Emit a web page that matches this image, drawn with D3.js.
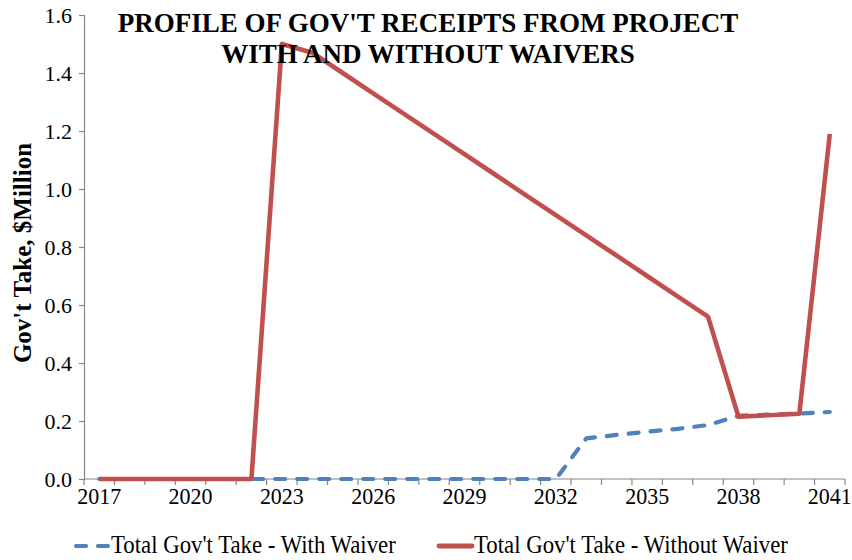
<!DOCTYPE html>
<html>
<head>
<meta charset="utf-8">
<script src="https://cdn.jsdelivr.net/npm/d3@7/dist/d3.min.js"></script>
<style>
  html, body { margin: 0; padding: 0; background: #fff; }
  svg { display: block; }
</style>
</head>
<body>
<svg id="chart" width="852" height="560"></svg>
<script>
// Government take by year, $ million
const years = [2017, 2018, 2019, 2020, 2021, 2022, 2023, 2024, 2025, 2026, 2027, 2028, 2029,
               2030, 2031, 2032, 2033, 2034, 2035, 2036, 2037, 2038, 2039, 2040, 2041];
const withWaiver = [0, 0, 0, 0, 0, 0, 0, 0, 0, 0, 0, 0, 0, 0, 0, 0,
                    0.14, 0.152, 0.163, 0.173, 0.186, 0.218, 0.222, 0.226, 0.231];
const withoutWaiver = [0, 0, 0, 0, 0, 0,
                       1.50, 1.47, 1.40, 1.33, 1.26, 1.19, 1.12, 1.05, 0.98, 0.91, 0.84, 0.77, 0.70, 0.63, 0.56,
                       0.215, 0.22, 0.225, 1.19];
const yTicks = [0, 0.2, 0.4, 0.6, 0.8, 1.0, 1.2, 1.4, 1.6];
const xLabelYears = [2017, 2020, 2023, 2026, 2029, 2032, 2035, 2038, 2041];
const titleLines = ["PROFILE OF GOV'T RECEIPTS FROM PROJECT", "WITH AND WITHOUT WAIVERS"];
const yTitle = "Gov't Take, $Million";
const seriesNames = ["Total Gov't Take - With Waiver", "Total Gov't Take - Without Waiver"];

const serif = "'Liberation Serif', 'Times New Roman', serif";
const svg = d3.select("#chart");
const plot = { left: 84, right: 845, top: 15, bottom: 479 };
const axisColor = "#868686";
const blue = "#4F81BD", red = "#C0504D";

const x = d3.scaleBand().domain(years).range([plot.left, plot.right]).paddingInner(0).paddingOuter(0);
const y = d3.scaleLinear().domain([0, 1.6]).range([plot.bottom, plot.top]);
const cx = d => x(d) + x.bandwidth() / 2;

// Y axis
const yAxis = d3.axisLeft(y).tickValues(yTicks).tickFormat(d3.format(".1f")).tickSize(5).tickPadding(7);
const gy = svg.append("g").attr("transform", `translate(${plot.left},0)`).call(yAxis)
  .attr("font-family", null).attr("font-size", null);
gy.select(".domain").attr("stroke", axisColor).attr("stroke-width", 1.2);
gy.selectAll(".tick line").attr("stroke", axisColor).attr("stroke-width", 1.2);
gy.selectAll(".tick text")
  .style("font-family", serif).style("font-size", "22px").attr("fill", "#000")
  .attr("dy", "0.36em");

// X axis: ticks sit on category boundaries, labels on every third year
const gx = svg.append("g").attr("transform", `translate(0,${plot.bottom})`);
gx.append("line").attr("x1", plot.left).attr("x2", plot.right).attr("stroke", axisColor).attr("stroke-width", 1.2);
const boundaries = years.map(d => x(d)).concat([plot.right]);
gx.selectAll("line.tick").data(boundaries).join("line")
  .attr("class", "tick")
  .attr("x1", d => d).attr("x2", d => d).attr("y1", 0).attr("y2", 6)
  .attr("stroke", axisColor).attr("stroke-width", 1.2);
gx.selectAll("text").data(xLabelYears).join("text")
  .attr("transform", d => `translate(${cx(d)},25) scale(1,1.08)`)
  .attr("text-anchor", "middle")
  .style("font-family", serif).style("font-size", "22px")
  .text(d => d);

// Series lines
const line = vals => d3.line().x((d, i) => cx(years[i])).y(d => y(d))(vals);
svg.append("path").attr("d", line(withWaiver))
  .attr("fill", "none").attr("stroke", blue).attr("stroke-width", 4.2)
  .attr("stroke-dasharray", "10,12").attr("stroke-linecap", "round").attr("stroke-linejoin", "round");
svg.append("path").attr("d", line(withoutWaiver))
  .attr("fill", "none").attr("stroke", red).attr("stroke-width", 4.6)
  .attr("stroke-linejoin", "round").attr("stroke-linecap", "butt");

// Title
svg.append("g").selectAll("text").data(titleLines).join("text")
  .attr("x", 428).attr("y", (d, i) => 32 + i * 31)
  .attr("text-anchor", "middle")
  .style("font-family", serif).style("font-size", "27px").style("font-weight", "bold")
  .text(d => d);

// Y axis title
svg.append("text")
  .attr("transform", `translate(31,253) rotate(-90)`)
  .attr("text-anchor", "middle")
  .style("font-family", serif).style("font-size", "25px").style("font-weight", "bold")
  .text(yTitle);

// Legend
const legend = svg.append("g");
legend.append("line").attr("x1", 76).attr("x2", 108).attr("y1", 546).attr("y2", 546)
  .attr("stroke", blue).attr("stroke-width", 4.2).attr("stroke-dasharray", "10,12")
  .attr("stroke-linecap", "round");
legend.append("text").attr("transform", "translate(111,553) scale(1,1.12)")
  .style("font-family", serif).style("font-size", "22.8px").text(seriesNames[0]);
legend.append("line").attr("x1", 439).attr("x2", 472).attr("y1", 546).attr("y2", 546)
  .attr("stroke", red).attr("stroke-width", 4.8).attr("stroke-linecap", "round");
legend.append("text").attr("transform", "translate(474,553) scale(1,1.12)")
  .style("font-family", serif).style("font-size", "22.8px").text(seriesNames[1]);
</script>
</body>
</html>
